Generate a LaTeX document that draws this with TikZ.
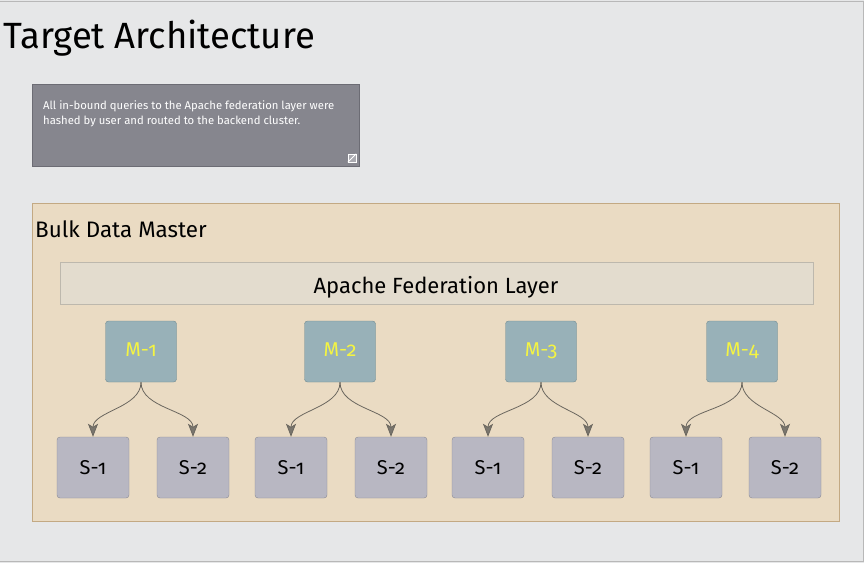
\documentclass[tikz,border=0pt]{standalone}
\usepackage{fontspec}
\setmainfont{Fira Sans}[Numbers=OldStyle]
\usetikzlibrary{arrows.meta}
\definecolor{bgc}{HTML}{E6E7E8}
\definecolor{bgline}{HTML}{B8B8B8}
\definecolor{notefill}{HTML}{86868E}
\definecolor{noteline}{HTML}{6C6C74}
\definecolor{bulkfill}{HTML}{EADBC3}
\definecolor{bulkline}{HTML}{C3A983}
\definecolor{apfill}{HTML}{E3DCCE}
\definecolor{apline}{HTML}{BDB8AD}
\definecolor{mfill}{HTML}{98B1B8}
\definecolor{mline}{HTML}{6F8A90}
\definecolor{mtext}{HTML}{F4F442}
\definecolor{sfill}{HTML}{B8B7C2}
\definecolor{sline}{HTML}{8A8A94}
\definecolor{arr}{HTML}{6B675F}
\definecolor{arrfill}{HTML}{7A766E}
\tikzset{
  mbox/.style={draw=mline, fill=mfill, rounded corners=3pt, minimum width=71pt, minimum height=61pt, inner sep=0pt, text=mtext, font=\fontsize{20}{24}\selectfont},
  sbox/.style={draw=sline, fill=sfill, rounded corners=3pt, minimum width=72pt, minimum height=61pt, inner sep=0pt, text=black, font=\fontsize{20}{24}\selectfont},
  link/.style={draw=arr, line width=0.8pt, -{Stealth[length=13pt,width=10pt,inset=3pt,fill=arrfill]}, out=-90, in=90, looseness=0.9}
}
\begin{document}
\begin{tikzpicture}[x=1pt,y=-1pt]
\useasboundingbox (0,0) rectangle (864,563);
\fill[bgc] (0,0) rectangle (864,563);
\draw[bgline, line width=1pt] (0,1) -- (863,1) -- (863,561.5) -- (0,561.5);
\node[anchor=base west, inner sep=0pt, font=\fontsize{36.5}{42}\selectfont] (title) at (3,48) {Target Architecture};
% note
\node[draw=noteline, fill=notefill, minimum width=327pt, minimum height=82pt, inner sep=0pt, anchor=north west] (note) at (32,84) {};
\node[anchor=north west, inner sep=0pt, text=white, align=left, font=\fontsize{11.3}{15}\selectfont] (notetext) at (43,100) {All in-bound queries to the Apache federation layer were\\hashed by user and routed to the backend cluster.};
\node[draw=white, fill=notefill!70!white, minimum size=8pt, inner sep=0pt] (icon) at (352,158) {};
\draw[white, line width=0.8pt] (icon.south west) -- (icon.north east);
% bulk
\node[draw=bulkline, fill=bulkfill, minimum width=807pt, minimum height=318pt, inner sep=0pt, anchor=north west] (bulk) at (32,203) {};
\node[anchor=west, inner sep=0pt, font=\fontsize{22.4}{26}\selectfont] (bulklabel) at (35,229) {Bulk Data Master};
\node[draw=apline, fill=apfill, minimum width=753pt, minimum height=42pt, inner sep=0pt, anchor=north west] (apache) at (60,262) {};
\node[inner sep=0pt, font=\fontsize{22}{26}\selectfont] (aptext) at (436,287) {Apache Federation Layer};
% M and S
\foreach \i/\mx/\sa/\sb in {1/141/93/193, 2/340/291/391, 3/541/488/588, 4/742/686/785}{
  \node[mbox] (m\i) at (\mx,351.5) {\raisebox{4pt}{M-\i}};
  \node[sbox] (s\i a) at (\sa,467.5) {S-1};
  \node[sbox] (s\i b) at (\sb,467.5) {S-2};
  \draw[link] (m\i.south) to (s\i a.north);
  \draw[link] (m\i.south) to (s\i b.north);
}
\end{tikzpicture}
\end{document}
